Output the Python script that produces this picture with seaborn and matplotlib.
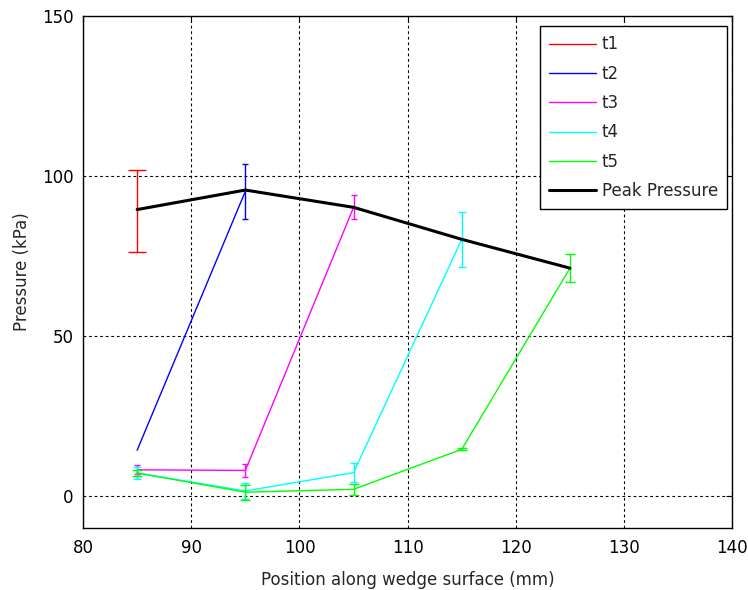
import numpy as np
import pandas as pd
import matplotlib
matplotlib.use("Agg")
import matplotlib.pyplot as plt
import seaborn as sns

# ---- data ----
t1_x = [85]
t1_y = [89.2]
t1_err = [12.8]

t2_x = [85, 95]
t2_y = [14.3, 95.2]
t2_err_x = [95]
t2_err_y = [95.2]
t2_err = [8.6]

t3_x = [85, 95, 105]
t3_y = [8.2, 8.0, 90.2]
t3_err = [1.4, 2.0, 3.8]

t4_x = [85, 95, 105, 115]
t4_y = [7.2, 1.6, 7.3, 80.2]
t4_err = [1.8, 2.6, 2.9, 8.6]

t5_x = [85, 95, 105, 115, 125]
t5_y = [7.2, 1.2, 2.1, 14.6, 71.2]
t5_err = [0.8, 2.3, 1.7, 0.3, 4.3]

peak_x = [85, 95, 105, 115, 125]
peak_y = [89.5, 95.6, 90.2, 80.2, 71.2]

series_labels = ["t1", "t2", "t3", "t4", "t5", "Peak Pressure"]
colors = ["#ff0000", "#0000ff", "#ff00ff", "#00ffff", "#00ff00", "#000000"]
xticks = [80, 90, 100, 110, 120, 130, 140]
yticks = [0, 50, 100, 150]

sns.set_style("white")
plt.rcParams["font.family"] = ["DejaVu Sans"]
FS = 12

fig = plt.figure(figsize=(7.48, 5.90), dpi=100)
ax = fig.add_axes([0.111, 0.105, 0.868, 0.868])

lines = [(t1_x, t1_y), (t2_x, t2_y), (t3_x, t3_y), (t4_x, t4_y), (t5_x, t5_y), (peak_x, peak_y)]
widths = [1, 1, 1, 1, 1, 2.2]
for (xs, ys), lab, col, lw in zip(lines, series_labels, colors, widths):
    df = pd.DataFrame({"x": xs, "y": ys})
    sns.lineplot(data=df, x="x", y="y", ax=ax, color=col, linewidth=lw,
                 label=lab, sort=False, estimator=None,
                 zorder=3 if lab != "Peak Pressure" else 4)

errs = [(t1_x, t1_y, t1_err, 6.8), (t2_err_x, t2_err_y, t2_err, 2.0),
        (t3_x, t3_y, t3_err, 2.2), (t4_x, t4_y, t4_err, 3.2), (t5_x, t5_y, t5_err, 3.6)]
for (xs, ys, es, cs), col in zip(errs, colors[:5]):
    ax.errorbar(xs, ys, yerr=es, fmt="none", ecolor=col, elinewidth=1,
                capsize=cs, capthick=1, zorder=3)

ax.set_xlim(80, 140)
ax.set_ylim(-10, 150)
ax.set_xticks(xticks)
ax.set_yticks(yticks)
ax.grid(True, linestyle=(0, (2.5, 2.5)), color="black", linewidth=0.8)
ax.set_axisbelow(True)
for s in ax.spines.values():
    s.set_color("black")
    s.set_linewidth(1)
ax.tick_params(direction="in", top=True, right=True, length=4, labelsize=FS,
               colors="black", pad=7)
ax.tick_params(axis="x", pad=8)
ax.set_xlabel("Position along wedge surface (mm)", fontsize=FS, labelpad=10)
ax.set_ylabel("Pressure (kPa)", fontsize=FS, labelpad=8)

leg = ax.legend(loc="upper right", bbox_to_anchor=(0.992, 0.980), borderaxespad=0,
                fontsize=FS, frameon=True, fancybox=False, edgecolor="black",
                framealpha=1, handlelength=2.8, labelspacing=0.68, borderpad=0.55,
                handletextpad=0.35)
leg.get_frame().set_linewidth(1)

fig.savefig("out.png", dpi=100)
